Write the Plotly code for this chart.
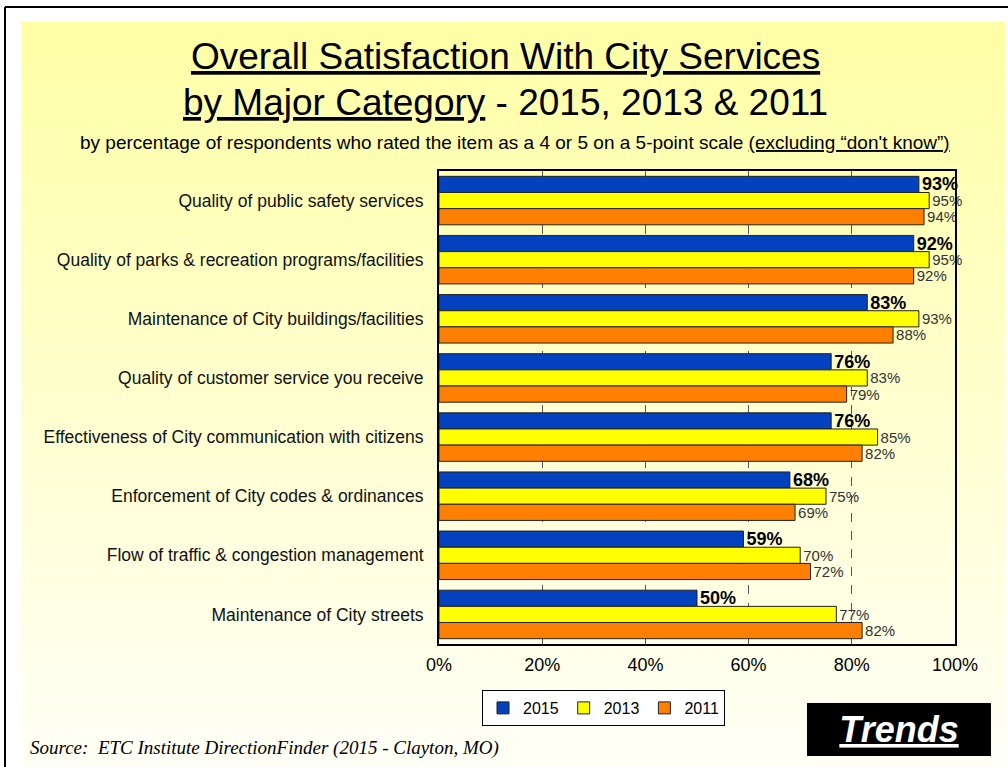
import plotly.graph_objects as go

categories = [
    "Quality of public safety services",
    "Quality of parks & recreation programs/facilities",
    "Maintenance of City buildings/facilities",
    "Quality of customer service you receive",
    "Effectiveness of City communication with citizens",
    "Enforcement of City codes & ordinances",
    "Flow of traffic & congestion management",
    "Maintenance of City streets",
]
values_2015 = [93, 92, 83, 76, 76, 68, 59, 50]
values_2013 = [95, 95, 93, 83, 85, 75, 70, 77]
values_2011 = [94, 92, 88, 79, 82, 69, 72, 82]
series_names = ["2015", "2013", "2011"]
x_tickvals = [0, 20, 40, 60, 80, 100]
x_ticktext = ["0%", "20%", "40%", "60%", "80%", "100%"]

W, H = 1008, 767
L, R, T, B = 439, 955, 171, 644


def px(x):
    return (x - L) / (R - L)


def py(y):
    return (B - y) / (B - T)


FONT = "Liberation Sans, Arial, Helvetica, sans-serif"
colors = ["#0341BE", "#FFFF00", "#FF8000"]

fig = go.Figure()
for name, vals, col in zip(series_names, [values_2015, values_2013, values_2011], colors):
    bold = name == "2015"
    fig.add_trace(go.Bar(
        name=name,
        y=categories,
        x=vals,
        orientation="h",
        marker=dict(color=col, line=dict(color="#222222", width=1)),
        text=[f"{v}%" for v in vals],
        textposition="outside",
        cliponaxis=False,
        constraintext="none",
        textfont=dict(family=FONT, size=18 if bold else 15,
                      color="#000000" if bold else "#333333",
                      weight="bold" if bold else "normal"),
    ))

shapes = []
# gradient background of the slide
n = 70
y0p, y1p = 22, 767
top_c = (255, 255, 166)
bot_c = (255, 255, 246)
for i in range(n):
    t = i / (n - 1)
    c = tuple(round(top_c[k] + (bot_c[k] - top_c[k]) * t) for k in range(3))
    ya = y0p + (y1p - y0p) * i / n
    yb = y0p + (y1p - y0p) * (i + 1) / n + 0.6
    shapes.append(dict(type="rect", xref="paper", yref="paper", layer="below",
                       x0=px(21), x1=px(1005), y0=py(ya), y1=py(yb),
                       fillcolor="rgb(%d,%d,%d)" % c, line=dict(width=0)))
# outer frame lines
shapes.append(dict(type="line", xref="paper", yref="paper", x0=px(5), x1=px(1008),
                   y0=py(7), y1=py(7), line=dict(color="black", width=2)))
shapes.append(dict(type="line", xref="paper", yref="paper", x0=px(5), x1=px(5),
                   y0=py(7), y1=py(767), line=dict(color="black", width=2)))

annotations = [
    dict(text="<u>Overall Satisfaction With City Services</u>", x=px(505), y=py(57),
         xref="paper", yref="paper", showarrow=False, xanchor="center", yanchor="middle",
         font=dict(family=FONT, size=37, color="black")),
    dict(text="<u>by Major Category</u> - 2015, 2013 & 2011", x=px(505), y=py(103),
         xref="paper", yref="paper", showarrow=False, xanchor="center", yanchor="middle",
         font=dict(family=FONT, size=37, color="black")),
    dict(text="by percentage of respondents who rated the item as a 4 or 5 on a 5-point scale "
              "<u>(excluding \u201cdon't know\u201d)</u>",
         x=px(515), y=py(142), xref="paper", yref="paper", showarrow=False,
         xanchor="center", yanchor="middle",
         font=dict(family=FONT, size=19, color="black")),
    dict(text="<i>Source:  ETC Institute DirectionFinder (2015 - Clayton, MO)</i>",
         x=px(28), y=py(748), xref="paper", yref="paper", showarrow=False,
         xanchor="left", yanchor="middle",
         font=dict(family="Liberation Serif, Times New Roman, serif", size=19, color="black")),
    dict(text="<b><i><u>Trends</u></i></b>", x=px(899), y=py(729.5), xref="paper", yref="paper",
         showarrow=False, xanchor="center", yanchor="middle", bgcolor="black",
         width=184, height=53, borderpad=0, borderwidth=0,
         font=dict(family=FONT, size=36, color="white")),
]

fig.update_layout(
    width=W, height=H,
    margin=dict(l=L, r=W - R, t=T, b=H - B, pad=0),
    paper_bgcolor="white",
    plot_bgcolor="white",
    barmode="group",
    bargap=0.18,
    bargroupgap=0,
    shapes=shapes,
    annotations=annotations,
    showlegend=True,
    legend=dict(orientation="h", xref="container", yref="container",
                x=482 / W, y=1 - 690 / H, xanchor="left", yanchor="top",
                bgcolor="white", bordercolor="black", borderwidth=1,
                font=dict(family=FONT, size=16, color="black"),
                itemwidth=30, traceorder="normal"),
    xaxis=dict(range=[0, 100], tickvals=x_tickvals, ticktext=x_ticktext,
               showgrid=True, gridcolor="#555555", griddash="dash", gridwidth=1,
               showline=True, linecolor="black", linewidth=2, mirror=True,
               zeroline=False, ticks="", ticklabelstandoff=3,
               tickfont=dict(family=FONT, size=18, color="black")),
    yaxis=dict(autorange="reversed", showgrid=False, showline=True, linecolor="black",
               linewidth=2, mirror=True, ticks="", ticklabelstandoff=10,
               tickfont=dict(family=FONT, size=17.5, color="#111111")),
    font=dict(family=FONT),
)

fig.write_html("out.html", config={"displayModeBar": False},
               post_script="document.body.style.margin='0';")
